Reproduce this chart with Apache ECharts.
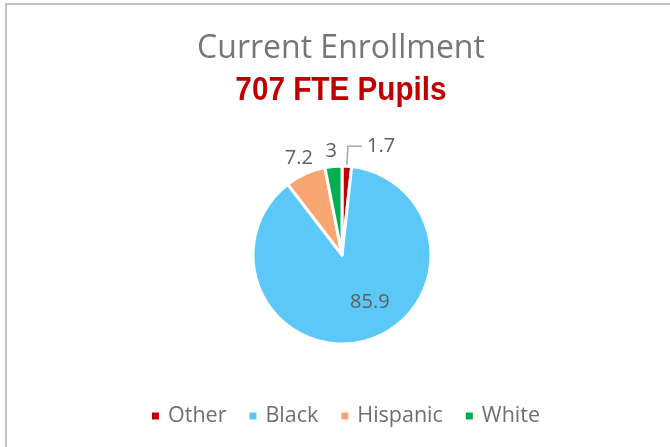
<!DOCTYPE html>
<html>
<head>
<meta charset="utf-8">
<script src="https://cdn.jsdelivr.net/npm/echarts@6/dist/echarts.min.js"></script>
<style>
html,body{margin:0;padding:0;background:#fff;}
#chart{width:670px;height:447px;}
</style>
</head>
<body>
<div id="chart"></div>
<script>
const categories = ['Other', 'Black', 'Hispanic', 'White'];
const values = [1.7, 85.9, 7.2, 3];
const colors = ['#C00000', '#5BC8F8', '#F9A673', '#00B050'];
const titleText = 'Current Enrollment';
const subtitleText = '707 FTE Pupils';

const labelFont = '"Open Sans", "Noto Sans", sans-serif';

const data = categories.map((name, i) => {
  const item = { name: name, value: values[i], itemStyle: { color: colors[i] } };
  if (name === 'Black') {
    item.label = { position: 'inside', offset: [15, 2] };
    item.labelLine = { show: false };
  } else if (name === 'Other') {
    item.label = { position: 'outside' };
    item.labelLine = { show: true, length: 20, length2: 14 };
  } else if (name === 'White') {
    item.label = { position: 'outside', offset: [9, -9] };
    item.labelLine = { show: false, length: 6, length2: 0 };
  } else {
    item.label = { position: 'outside', offset: [15, -10] };
    item.labelLine = { show: false, length: 6, length2: 0 };
  }
  return item;
});

const chart = echarts.init(document.getElementById('chart'), null, { renderer: 'canvas' });
chart.setOption({
  animation: false,
  backgroundColor: '#ffffff',
  graphic: [{
    type: 'rect',
    shape: { x: 6, y: 4, width: 720, height: 520 },
    style: { fill: 'none', stroke: '#C3C3C3', lineWidth: 2 },
    silent: true
  }, {
    type: 'text',
    x: 341, y: 49,
    silent: true,
    style: {
      text: titleText,
      font: '32px "Open Sans", "Noto Sans", sans-serif',
      fill: '#767676',
      textAlign: 'center',
      textVerticalAlign: 'middle'
    }
  }, {
    type: 'text',
    x: 341, y: 91,
    scaleX: 0.9,
    silent: true,
    style: {
      text: subtitleText,
      font: 'bold 33px "Liberation Sans Narrow", "Arial Narrow", "Liberation Sans", sans-serif',
      fill: '#C00000',
      textAlign: 'center',
      textVerticalAlign: 'middle'
    }
  }],
  legend: {
    data: categories,
    bottom: 20,
    left: 150,
    padding: 0,
    icon: 'rect',
    itemWidth: 9,
    itemHeight: 9,
    itemGap: 21,
    textStyle: { fontFamily: labelFont, fontSize: 21.5, color: '#6F6F6F', padding: [0, 0, 0, 3] }
  },
  series: [{
    type: 'pie',
    center: [342, 255],
    radius: 89,
    startAngle: 90,
    clockwise: true,
    avoidLabelOverlap: false,
    itemStyle: { borderColor: '#ffffff', borderWidth: 3 },
    label: {
      show: true,
      formatter: '{c}',
      fontFamily: labelFont,
      fontSize: 20,
      color: '#5E5E5E'
    },
    labelLine: { lineStyle: { color: '#A6A6A6', width: 1.5 } },
    emphasis: { disabled: true },
    data: data
  }]
});
</script>
</body>
</html>
